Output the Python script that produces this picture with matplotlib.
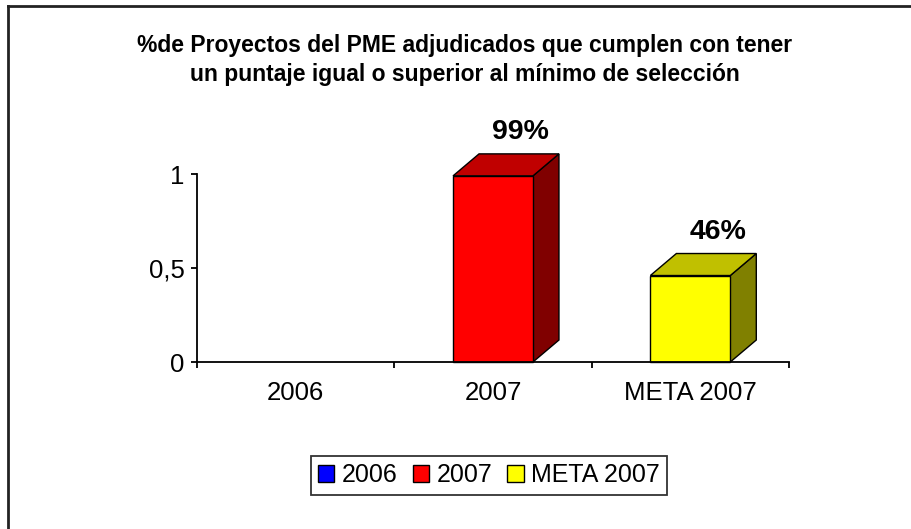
import matplotlib
matplotlib.use("Agg")
import matplotlib.pyplot as plt
from matplotlib.patches import Polygon, Rectangle
from matplotlib.lines import Line2D

plt.rcParams['font.family'] = ['Liberation Sans', 'DejaVu Sans']

# Data
categories = ["2006", "2007", "META 2007"]
values = [0.0, 0.99, 0.46]
yticks = [0, 0.5, 1]
ytick_labels = ["0", "0,5", "1"]
title = ("%de Proyectos del PME adjudicados que cumplen con tener\n"
         "un puntaje igual o superior al mínimo de selección")

front_colors = ["#0000FF", "#FF0000", "#FFFF00"]
top_colors = ["#0000C0", "#C00000", "#C0C000"]
side_colors = ["#000080", "#800000", "#808000"]

W, H, DPI = 912, 529, 100
fig = plt.figure(figsize=(W / DPI, H / DPI), dpi=DPI)
fig.patch.set_facecolor("white")

# plot area in pixels
x_left, x_right = 197, 789
y_zero, y_one = 362, 174
ax = fig.add_axes([x_left / W, 1 - y_zero / H,
                   (x_right - x_left) / W, (y_zero - y_one) / H])
ax.set_xlim(0, len(categories))
ax.set_ylim(0, 1)
ax.set_facecolor("none")

for s in ("top", "right"):
    ax.spines[s].set_visible(False)
for s in ("left", "bottom"):
    ax.spines[s].set_linewidth(1.3)
    ax.spines[s].set_color("black")

# 3D bar geometry (in data units)
bar_w = 0.405
dx = 26 / (x_right - x_left) * len(categories)
dy = 22 / (y_zero - y_one)

for i, v in enumerate(values):
    if v <= 0:
        continue
    x0 = i + 0.5 - bar_w / 2
    x1 = x0 + bar_w
    kw = dict(edgecolor="black", linewidth=1.0, clip_on=False, joinstyle="miter")
    ax.add_patch(Polygon([(x1, 0), (x1 + dx, dy), (x1 + dx, v + dy), (x1, v)],
                         closed=True, facecolor=side_colors[i], **kw))
    ax.add_patch(Polygon([(x0, v), (x1, v), (x1 + dx, v + dy), (x0 + dx, v + dy)],
                         closed=True, facecolor=top_colors[i], **kw))
    ax.add_patch(Rectangle((x0, 0), bar_w, v, facecolor=front_colors[i], **kw))
    ax.text(i + 0.5 + 0.14, v + dy + 0.045, f"{round(v * 100):d}%",
            ha="center", va="bottom", fontsize=20.5, fontweight="bold",
            clip_on=False)

# y axis
ax.set_yticks(yticks)
ax.set_yticklabels(ytick_labels)
ax.tick_params(axis="y", direction="out", length=4, width=1.3, pad=5,
               labelsize=18.5)

# x axis: ticks at category boundaries, labels at centers
ax.set_xticks(range(len(categories) + 1))
ax.set_xticklabels([])
ax.tick_params(axis="x", which="major", direction="out", length=4, width=1.3)
ax.set_xticks([i + 0.5 for i in range(len(categories))], minor=True)
ax.set_xticklabels(categories, minor=True)
ax.tick_params(axis="x", which="minor", length=0, pad=14, labelsize=18.5)

# title
fig.text(465 / W, 1 - 60 / H, title, ha="center", va="center",
         fontsize=16.5, fontweight="bold", linespacing=1.32)

# legend
handles = [Rectangle((0, 0), 1, 1, facecolor=c, edgecolor="black", linewidth=1.0)
           for c in front_colors]
leg = fig.legend(handles, categories, loc="center",
                 bbox_to_anchor=(489 / W, 1 - 475 / H), ncol=3,
                 fontsize=18, frameon=True, fancybox=False,
                 handlelength=0.65, handleheight=0.65, handletextpad=0.3,
                 columnspacing=0.6, borderpad=0.3, borderaxespad=0)
leg.get_frame().set_edgecolor("black")
leg.get_frame().set_linewidth(1.3)

# outer chart border (top and left edges visible)
fig.add_artist(Line2D([8 / W, 1], [1 - 6 / H, 1 - 6 / H],
                      transform=fig.transFigure, color="#222222", linewidth=2))
fig.add_artist(Line2D([8.5 / W, 8.5 / W], [0, 1 - 6 / H],
                      transform=fig.transFigure, color="#222222", linewidth=2))

fig.savefig("out.png", dpi=DPI)
